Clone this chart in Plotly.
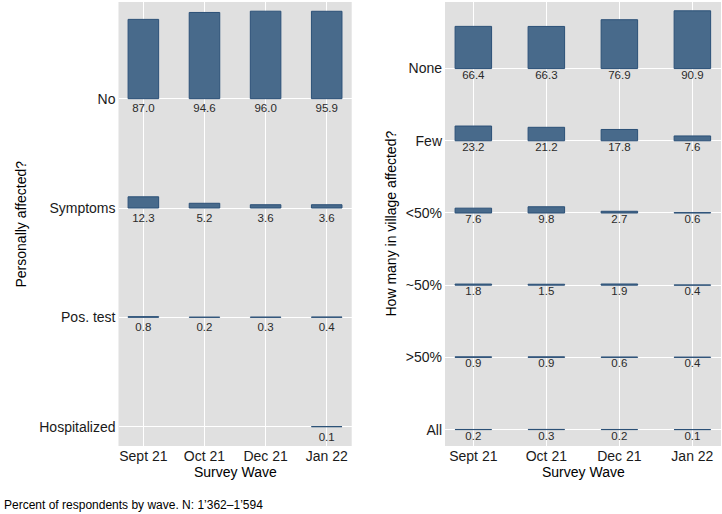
import plotly.graph_objects as go

waves = ["Sept 21", "Oct 21", "Dec 21", "Jan 22"]

# Left panel: Personally affected?
left_cats = ["No", "Symptoms", "Pos. test", "Hospitalized"]
left_vals = {
    "No": [87.0, 94.6, 96.0, 95.9],
    "Symptoms": [12.3, 5.2, 3.6, 3.6],
    "Pos. test": [0.8, 0.2, 0.3, 0.4],
    "Hospitalized": [None, None, None, 0.1],
}

# Right panel: How many in village affected?
right_cats = ["None", "Few", "<50%", "~50%", ">50%", "All"]
right_vals = {
    "None": [66.4, 66.3, 76.9, 90.9],
    "Few": [23.2, 21.2, 17.8, 7.6],
    "<50%": [7.6, 9.8, 2.7, 0.6],
    "~50%": [1.8, 1.5, 1.9, 0.4],
    ">50%": [0.9, 0.9, 0.6, 0.4],
    "All": [0.2, 0.3, 0.2, 0.1],
}

caption = "Percent of respondents by wave. N: 1\u2019362\u20131\u2019594"

W, H = 722, 514
FILL = "#486A8B"
EDGE = "#2B5077"
FONT = "Liberation Sans, Arial, Helvetica, sans-serif"

fig = go.Figure()


def add_panel(cats, vals, xref, yref):
    n = len(cats)
    vmax = max(v for c in cats for v in vals[c] if v is not None)
    for i, c in enumerate(cats):
        row = n - 1 - i
        xs, hs, bs, lx, ly, lt = [], [], [], [], [], []
        for j, v in enumerate(vals[c]):
            if v is None:
                continue
            xs.append(j)
            hs.append(v / vmax * 0.8)
            bs.append(row)
            lx.append(j)
            ly.append(row - 0.1)
            lt.append(f"{v:.1f}")
        fig.add_trace(go.Bar(
            x=xs, y=hs, base=bs, width=0.5,
            marker=dict(color=FILL, line=dict(color=EDGE, width=1)),
            xaxis=xref, yaxis=yref, showlegend=False, hoverinfo="skip",
        ))
        fig.add_trace(go.Scatter(
            x=lx, y=ly, mode="text", text=lt,
            textposition="middle center",
            textfont=dict(size=11.5, color="#2a2a2a", family=FONT),
            xaxis=xref, yaxis=yref, showlegend=False, hoverinfo="skip",
            cliponaxis=False,
        ))


add_panel(left_cats, left_vals, "x", "y")
add_panel(right_cats, right_vals, "x2", "y2")

ydom = [1 - 446 / H, 1 - 2 / H]
axis_common = dict(
    showgrid=True, gridcolor="white", gridwidth=1.2, zeroline=False,
    showline=False, ticks="", tickfont=dict(size=14, color="#1a1a1a", family=FONT),
    fixedrange=True,
)

fig.update_layout(
    width=W, height=H,
    margin=dict(l=0, r=0, t=0, b=0),
    paper_bgcolor="white",
    plot_bgcolor="#E0E0E0",
    barmode="overlay",
    font=dict(family=FONT, color="#000000"),
    xaxis=dict(domain=[118.5 / W, 351.7 / W], anchor="y",
               range=[-0.407, 3.409], tickvals=list(range(4)), ticktext=waves,
               ticklabelstandoff=0, **axis_common),
    yaxis=dict(domain=ydom, anchor="x",
               range=[-0.1765, 3.884], tickvals=list(range(len(left_cats))),
               ticktext=left_cats[::-1], ticklabelstandoff=2, **axis_common),
    xaxis2=dict(domain=[445 / W, 721 / W], anchor="y2",
                range=[-0.388, 3.392], tickvals=list(range(4)), ticktext=waves,
                ticklabelstandoff=0, **axis_common),
    yaxis2=dict(domain=ydom, anchor="x2",
                range=[-0.227, 5.922], tickvals=list(range(len(right_cats))),
                ticktext=right_cats[::-1], ticklabelstandoff=2, **axis_common),
)

ann = [
    dict(text="Survey Wave", x=(118.5 + 351.7) / 2 / W, y=1 - 472 / H),
    dict(text="Survey Wave", x=(445 + 721) / 2 / W, y=1 - 472 / H),
]
for a in ann:
    fig.add_annotation(xref="paper", yref="paper", showarrow=False,
                       xanchor="center", yanchor="middle",
                       font=dict(size=14, color="#000000", family=FONT), **a)

fig.add_annotation(text="Personally affected?", xref="paper", yref="paper",
                   x=20.5 / W, y=1 - 224 / H, textangle=-90, showarrow=False,
                   xanchor="center", yanchor="middle",
                   font=dict(size=14, color="#000000", family=FONT))
fig.add_annotation(text="How many in village affected?", xref="paper", yref="paper",
                   x=390.5 / W, y=1 - 224 / H, textangle=-90, showarrow=False,
                   xanchor="center", yanchor="middle",
                   font=dict(size=14, color="#000000", family=FONT))
fig.add_annotation(text=caption, xref="paper", yref="paper",
                   x=2 / W, y=1 - 505 / H, showarrow=False,
                   xanchor="left", yanchor="middle",
                   font=dict(size=12, color="#000000", family=FONT))

fig.write_html(
    "out.html",
    config={"displayModeBar": False},
    post_script="document.body.style.margin='0';document.body.style.padding='0';"
                "document.body.style.overflow='hidden';",
)
